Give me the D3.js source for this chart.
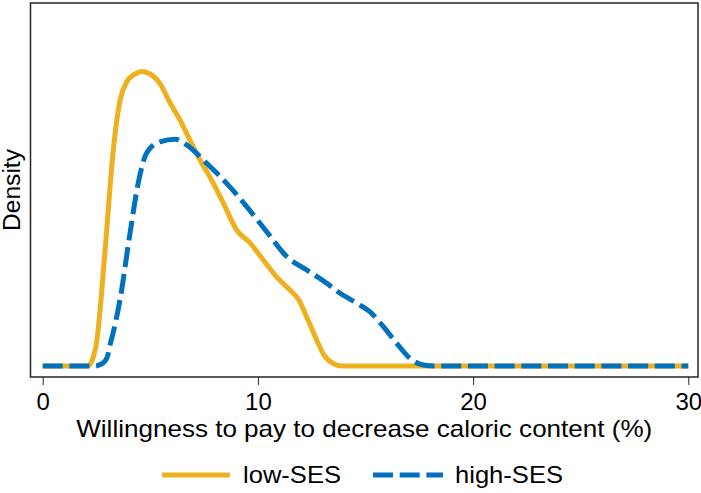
<!DOCTYPE html>
<html>
<head>
<meta charset="utf-8">
<script src="https://cdn.jsdelivr.net/npm/d3@7"></script>
<style>
  html, body { margin: 0; padding: 0; background: #fff; }
  svg { display: block; font-family: "Liberation Sans", Arial, Helvetica, sans-serif; }
</style>
</head>
<body>
<svg id="chart" width="701" height="493"></svg>
<script>
// Kernel density estimates of willingness to pay (%), by socioeconomic status
const seriesNames = ["low-SES", "high-SES"];
const seriesColors = ["#EDB120", "#0072BD"];

const lowX = [0, 2.1, 2.35, 2.5, 2.9, 3.28, 3.6, 3.9, 4.3, 4.6, 4.95, 5.45, 5.92, 6.38, 6.84, 7.31, 7.77, 8.39, 9.01, 9.63, 10.25, 10.87, 11.49, 11.9, 12.27, 12.73, 13.1, 13.5, 13.9, 14.5, 30];
const lowDensity = [0, 0, 0.0046, 0.0117, 0.0592, 0.1102, 0.1357, 0.1449, 0.1490, 0.1502, 0.1492, 0.1441, 0.1342, 0.1255, 0.1153, 0.1051, 0.0964, 0.0832, 0.0694, 0.0628, 0.0541, 0.0454, 0.0388, 0.0337, 0.0250, 0.0133, 0.0051, 0.0013, 0, 0, 0];

const highX = [0, 2.4, 2.8, 3.0, 3.15, 3.27, 3.59, 4.06, 4.44, 4.83, 5.45, 6.15, 6.69, 7.62, 8.55, 9.48, 10.41, 11.34, 12.27, 13.2, 13.82, 14.75, 15.2, 15.83, 16.45, 17.07, 17.69, 18.2, 30];
const highDensity = [0, 0, 0.0015, 0.0046, 0.0117, 0.0168, 0.0337, 0.0679, 0.0934, 0.1087, 0.1144, 0.1157, 0.1128, 0.1034, 0.0932, 0.0813, 0.0685, 0.0558, 0.0490, 0.0422, 0.0371, 0.0311, 0.0277, 0.0201, 0.0116, 0.0039, 0.0005, 0, 0];

const xTicks = [0, 10, 20, 30];
const xLabel = "Willingness to pay to decrease caloric content (%)";
const yLabel = "Density";

const svg = d3.select("#chart");
const frame = { left: 30.5, right: 698, top: 3, bottom: 377 };

const x = d3.scaleLinear().domain([0, 30]).range([42.7, 688.3]);
const y = d3.scaleLinear().domain([-0.0056, 0.1852]).range([frame.bottom, frame.top]);

// axis box
svg.append("rect")
  .attr("x", frame.left).attr("y", frame.top)
  .attr("width", frame.right - frame.left).attr("height", frame.bottom - frame.top)
  .attr("fill", "none").attr("stroke", "#262626").attr("stroke-width", 1.5);

// x axis ticks and labels
const xAxis = d3.axisBottom(x).tickValues(xTicks).tickSize(8).tickPadding(6).tickFormat(d3.format("d"));
const gx = svg.append("g").attr("transform", `translate(0,${frame.bottom})`).call(xAxis);
gx.select(".domain").remove();
gx.selectAll(".tick line").attr("stroke", "#262626").attr("stroke-width", 1);
gx.selectAll(".tick text")
  .attr("fill", "#000").attr("font-size", 24)
  .attr("font-family", "'Liberation Sans', Arial, sans-serif")
  .attr("dy", null).attr("y", 33);

// axis titles
svg.append("text")
  .attr("x", (frame.left + frame.right) / 2).attr("y", 437)
  .attr("text-anchor", "middle").attr("font-size", 24).attr("fill", "#000")
  .attr("textLength", 576).attr("lengthAdjust", "spacingAndGlyphs")
  .text(xLabel);

svg.append("text")
  .attr("transform", `translate(19.5,${(frame.top + frame.bottom) / 2}) rotate(-90)`)
  .attr("text-anchor", "middle").attr("font-size", 23).attr("fill", "#000")
  .attr("textLength", 82).attr("lengthAdjust", "spacingAndGlyphs")
  .text(yLabel);

// density curves
const line = d3.line()
  .x(d => x(d[0]))
  .y(d => y(d[1]))
  .curve(d3.curveMonotoneX);

const lowData = d3.zip(lowX, lowDensity);
const highData = d3.zip(highX, highDensity);

svg.append("path")
  .datum(lowData)
  .attr("d", line)
  .attr("fill", "none")
  .attr("stroke", seriesColors[0])
  .attr("stroke-width", 5)
  .attr("stroke-linejoin", "round");

svg.append("path")
  .datum(highData)
  .attr("d", line)
  .attr("fill", "none")
  .attr("stroke", seriesColors[1])
  .attr("stroke-width", 5)
  .attr("stroke-dasharray", "20,6.7");

// legend
const legendItems = [
  { name: seriesNames[0], color: seriesColors[0], dash: null, x1: 162, x2: 230, tx: 243, len: 98 },
  { name: seriesNames[1], color: seriesColors[1], dash: "20,6.7", x1: 373, x2: 443, tx: 455, len: 108 }
];
const lg = svg.append("g");
legendItems.forEach(it => {
  lg.append("line")
    .attr("x1", it.x1).attr("x2", it.x2).attr("y1", 475).attr("y2", 475)
    .attr("stroke", it.color).attr("stroke-width", 5)
    .attr("stroke-dasharray", it.dash);
  lg.append("text")
    .attr("x", it.tx).attr("y", 483)
    .attr("font-size", 24).attr("fill", "#000")
    .attr("textLength", it.len).attr("lengthAdjust", "spacingAndGlyphs")
    .text(it.name);
});
</script>
</body>
</html>
